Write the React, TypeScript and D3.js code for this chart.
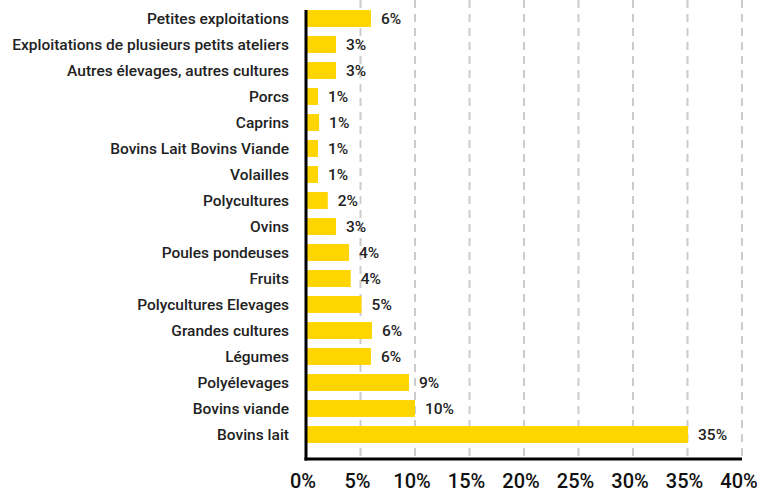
import React from 'react';
import * as d3 from 'd3';

const categories = [
  'Petites exploitations',
  'Exploitations de plusieurs petits ateliers',
  'Autres élevages, autres cultures',
  'Porcs',
  'Caprins',
  'Bovins Lait Bovins Viande',
  'Volailles',
  'Polycultures',
  'Ovins',
  'Poules pondeuses',
  'Fruits',
  'Polycultures Elevages',
  'Grandes cultures',
  'Légumes',
  'Polyélevages',
  'Bovins viande',
  'Bovins lait',
];
const values = [5.96, 2.75, 2.75, 1.1, 1.2, 1.1, 1.1, 2.0, 2.75, 3.95, 4.1, 5.1, 6.05, 5.96, 9.45, 10.0, 35.05];
const valueLabels = ['6%', '3%', '3%', '1%', '1%', '1%', '1%', '2%', '3%', '4%', '4%', '5%', '6%', '6%', '9%', '10%', '35%'];
const ticks = [0, 5, 10, 15, 20, 25, 30, 35, 40];

const W = 757;
const H = 493;
const left = 306;
const right = 742;
const axisY = 459;
const font = 'Roboto, "DejaVu Sans", sans-serif';

export default function App() {
  const x = d3.scaleLinear().domain([0, 40]).range([left, right]);
  const y = d3.scaleBand<string>().domain(categories).range([5.5, 447.5]).paddingInner(0.35).paddingOuter(0.175);

  return (
    <svg width={W} height={H} style={{ position: 'absolute', left: 0, top: 0 }}>
      <rect width={W} height={H} fill="#fff" />
      {ticks.slice(1).map(t => (
        <line key={t} x1={x(t)} x2={x(t)} y1={0} y2={axisY} stroke="#cccccc" strokeWidth={2} strokeDasharray="8 6" />
      ))}
      {categories.map((c, i) => (
        <g key={c}>
          <rect x={x(0)} y={y(c)} width={x(values[i]) - x(0)} height={y.bandwidth()} fill="#FFD500" />
          <text x={x(values[i]) + 10} y={(y(c) ?? 0) + y.bandwidth() / 2} dy="0.36em"
            fontFamily={font} fontWeight={500} fontSize={15.5} fill="#222">{valueLabels[i]}</text>
          <text x={289} y={(y(c) ?? 0) + y.bandwidth() / 2} dy="0.36em" textAnchor="end"
            fontFamily={font} fontWeight={500} fontSize={15.5} fill="#222">{c}</text>
        </g>
      ))}
      <line x1={x(0)} x2={x(0)} y1={10} y2={axisY + 1.5} stroke="#000" strokeWidth={3} />
      <line x1={x(0) - 1.5} x2={right} y1={axisY} y2={axisY} stroke="#000" strokeWidth={3} />
      {ticks.map(t => (
        <text key={t} x={x(t) - 3} y={488} textAnchor="middle"
          fontFamily={font} fontWeight={500} fontSize={20} fill="#111">{t}%</text>
      ))}
    </svg>
  );
}
